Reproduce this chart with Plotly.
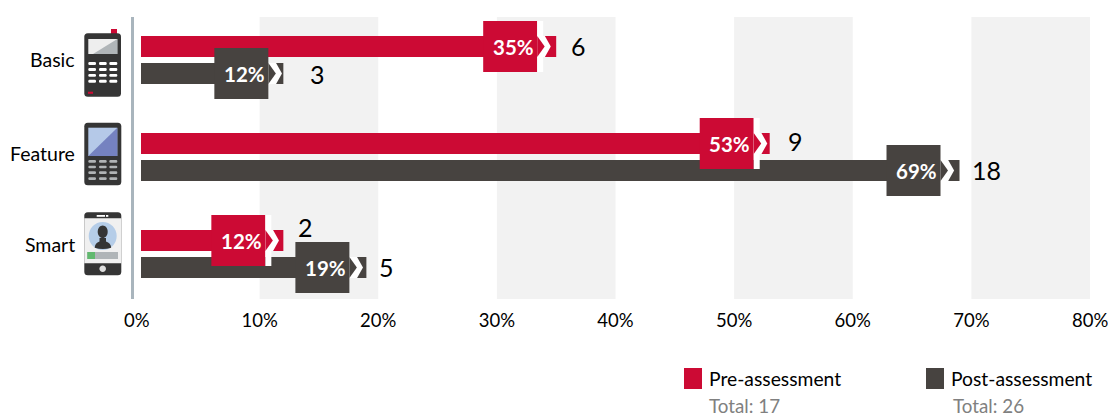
import plotly.graph_objects as go

# Device classes and the share of respondents owning each, before and after
categories = ["Basic", "Feature", "Smart"]
pre_pct = [35, 53, 12]
post_pct = [12, 69, 19]
pre_counts = [6, 9, 2]
post_counts = [3, 18, 5]
pre_total = 17
post_total = 26
tick_values = [0, 10, 20, 30, 40, 50, 60, 70, 80]
band_starts = [10, 30, 50, 70]

RED = "#cc0a34"
DARK = "#474340"
FONT = "Lato"
W, H = 1108, 416
M_L, M_R, M_T, M_B = 134, 18, 17, 117
X_ZERO_PX = 141.0
PX_PER_UNIT = 11.86
CAT_CY = [60, 157, 254]


def paper_x(px):
    return (px - M_L) / (W - M_L - M_R)


def paper_y(py):
    return 1 - (py - M_T) / (H - M_T - M_B)


def data_x(px):
    return (px - X_ZERO_PX) / PX_PER_UNIT


shapes = []
annotations = []


def anchored(xval, yval, d, color, xref="x"):
    """Shape sized in pixels around an anchor; d is a list of path segments with y pointing down."""
    path = []
    for cmd, *pts in d:
        coords = " ".join(f"{pts[i]:.2f},{-pts[i + 1]:.2f}" for i in range(0, len(pts), 2))
        path.append(f"{cmd}{coords}")
    shapes.append(dict(type="path", xref=xref, yref="y", xsizemode="pixel", ysizemode="pixel",
                       xanchor=xval, yanchor=yval, path=" ".join(path) + " Z",
                       fillcolor=color, line=dict(width=0), layer="above"))


def rect(x0, y0, x1, y1):
    return [("M", x0, y0), ("L", x1, y0), ("L", x1, y1), ("L", x0, y1)]


def rrect(x0, y0, x1, y1, r):
    return [("M", x0 + r, y0), ("L", x1 - r, y0), ("Q", x1, y0, x1, y0 + r),
            ("L", x1, y1 - r), ("Q", x1, y1, x1 - r, y1),
            ("L", x0 + r, y1), ("Q", x0, y1, x0, y1 - r),
            ("L", x0, y0 + r), ("Q", x0, y0, x0 + r, y0)]


def ellipse(cx, cy, rx, ry):
    k = 0.5523
    return [("M", cx - rx, cy),
            ("C", cx - rx, cy - k * ry, cx - k * rx, cy - ry, cx, cy - ry),
            ("C", cx + k * rx, cy - ry, cx + rx, cy - k * ry, cx + rx, cy),
            ("C", cx + rx, cy + k * ry, cx + k * rx, cy + ry, cx, cy + ry),
            ("C", cx - k * rx, cy + ry, cx - rx, cy + k * ry, cx - rx, cy)]


def icon(cat, page_segments, color):
    """Draw an icon part given in page pixels, anchored left of the plot on its category row."""
    cy = CAT_CY[cat]
    d = []
    for cmd, *pts in page_segments:
        out = [cmd]
        for i in range(0, len(pts), 2):
            out += [pts[i] - X_ZERO_PX, pts[i + 1] - cy]
        d.append(tuple(out))
    anchored(paper_x(X_ZERO_PX), cat, d, color, xref="paper")


def keypad(cat, rows, color):
    for y0, y1 in rows:
        for x0, x1 in [(88.3, 96), (99, 106.7), (109.3, 117.3)]:
            icon(cat, rrect(x0, y0, x1, y1, 1.2), color)


# Basic handset
icon(0, rect(111, 29, 117, 35), RED)
icon(0, rrect(84.3, 33.3, 121, 96.7, 3.5), "#353535")
icon(0, rect(88.3, 39, 117.3, 54), "#eeeeee")
icon(0, [("M", 117.3, 39), ("L", 117.3, 54), ("L", 93, 54)], "#b0b5b8")
keypad(0, [(62, 65), (68, 71), (74, 76.8), (79.7, 82.7)], "#ffffff")
icon(0, rect(88, 91.7, 93, 93.8), RED)

# Feature handset
icon(1, rrect(84.3, 122.7, 121.3, 185.3, 3.5), "#353535")
icon(1, rect(88.3, 127.7, 117.3, 156), "#b5c9e8")
icon(1, [("M", 117.3, 127.7), ("L", 117.3, 156), ("L", 88.3, 156)], "#7582c0")
keypad(1, [(160, 162.7), (165.7, 168.3), (171.3, 174), (177.3, 180)], "#b0b3b5")

# Smartphone
icon(2, rrect(84.3, 212.3, 121.3, 275.3, 3.5), "#353535")
icon(2, rect(84.3, 218.3, 121.3, 263.3), "#f0f0f0")
icon(2, rect(96.7, 215, 105, 216.8), "#ffffff")
icon(2, rect(106, 215, 108.3, 216.8), "#ffffff")
icon(2, ellipse(102.7, 236, 14, 14), "#b5cde8")
icon(2, [("M", 94.7, 247.7), ("Q", 95, 243, 99.5, 241.5), ("L", 99.5, 238), ("L", 106, 238),
         ("L", 106, 241.5), ("Q", 110.8, 243, 111.2, 247.7), ("Q", 102.7, 250.5, 94.7, 247.7)], "#353535")
icon(2, ellipse(102.7, 231.7, 5, 6.3), "#353535")
icon(2, rect(87.3, 252, 118, 259), "#b0b5b8")
icon(2, rect(87.3, 252, 95, 259), "#62b96f")
icon(2, ellipse(102.7, 268.7, 3.3, 3.3), "#dddddd")

# Alternating background bands
for start in band_starts:
    shapes.append(dict(type="rect", xref="x", yref="paper", x0=start, x1=start + 10, y0=0, y1=1,
                       fillcolor="#f2f2f2", line=dict(width=0), layer="below"))

# Distance of each percent flag's right edge from the end of its bar
PRE_FLAG_BACK = [19, 16, 18]
POST_FLAG_BACK = [15, 19, 17]
# Where the count sits relative to the end of its bar: (right of the end, below the bar centre)
PRE_COUNT_NUDGE = [(13, -0.5), (16, -2.5), (13, -13.5)]
POST_COUNT_NUDGE = [(25, 0.5), (10, -0.5), (11, -1)]


def flag(cat, value, slot, back, color, stripe):
    """Percent flag on a bar: box, optional white stripe and a white chevron."""
    y = -13.5 if slot == 0 else 13.5
    r = -back
    anchored(value, cat, rect(r - 54, y - 25.5, r, y + 25.5), color)
    if stripe:
        anchored(value, cat, rect(r, y - 25.5, r + 6, y + 25.5), "#ffffff")
    anchored(value, cat, [("M", r, y - 10.5), ("L", r + 7.7, y - 10.5), ("L", r + 13.6, y),
                          ("L", r + 7.7, y + 10.5), ("L", r, y + 10.5)], "#ffffff")
    anchored(value, cat, [("M", r, y - 10.5), ("L", r + 7.5, y), ("L", r, y + 10.5)], color)
    annotations.append(dict(x=value, y=cat, xref="x", yref="y", text=f"<b>{value}%</b>", showarrow=False,
                            xanchor="center", yanchor="middle", xshift=r - 24, yshift=-y,
                            font=dict(family=FONT, size=20.5, color="#ffffff")))


def count_label(cat, value, count, slot, nudge):
    off = -13.5 if slot == 0 else 13.5
    annotations.append(dict(x=value, y=cat, xref="x", yref="y", text=str(count), showarrow=False,
                            xanchor="left", yanchor="middle", xshift=nudge[0],
                            yshift=-(off + nudge[1]),
                            font=dict(family=FONT, size=25, color="#000000")))


for i in range(len(categories)):
    flag(i, pre_pct[i], 0, PRE_FLAG_BACK[i], RED, True)
    count_label(i, pre_pct[i], pre_counts[i], 0, PRE_COUNT_NUDGE[i])
for i in range(len(categories)):
    flag(i, post_pct[i], 1, POST_FLAG_BACK[i], DARK, False)
    count_label(i, post_pct[i], post_counts[i], 1, POST_COUNT_NUDGE[i])

# Category names, right-aligned against the icons
for name, py in zip(categories, [59, 153, 245]):
    annotations.append(dict(x=paper_x(76.5), y=paper_y(py), xref="paper", yref="paper", text=name,
                            showarrow=False, xanchor="right", yanchor="middle",
                            font=dict(family=FONT, size=19.5, color="#000000")))

# Axis ends: the zero label sits slightly left of its tick, the last label runs to the page edge
annotations.append(dict(x=tick_values[0], y=0, xref="x", yref="paper", text=f"{tick_values[0]}%", showarrow=False,
                        xanchor="center", yanchor="top", xshift=-4, yshift=-8,
                        font=dict(family=FONT, size=18.5, color="#000000")))
annotations.append(dict(x=tick_values[-1], y=0, xref="x", yref="paper", text=f"{tick_values[-1]}%", showarrow=False,
                        xanchor="center", yanchor="top", xshift=0, yshift=-8,
                        font=dict(family=FONT, size=18.5, color="#000000")))

# Legend block, placed on the x axis so long entries do not disturb the plot margins
for x_sq, x_txt, name, color, total, x_tot in [
    (684, 707, "Pre-assessment", RED, pre_total, 707),
    (926, 949, "Post-assessment", DARK, post_total, 951),
]:
    shapes.append(dict(type="rect", xref="paper", yref="paper", x0=paper_x(x_sq), x1=paper_x(x_sq + 18),
                       y0=paper_y(389), y1=paper_y(368), fillcolor=color, line=dict(width=0)))
    annotations.append(dict(x=data_x(x_txt), y=paper_y(378), xref="x", yref="paper", text=name,
                            showarrow=False, xanchor="left", yanchor="middle",
                            font=dict(family=FONT, size=19.3, color="#000000")))
    annotations.append(dict(x=data_x(x_tot), y=paper_y(405), xref="x", yref="paper", text=f"Total: {total}",
                            showarrow=False, xanchor="left", yanchor="middle",
                            font=dict(family=FONT, size=18.8, color="#808080")))

fig = go.Figure()
fig.add_bar(y=categories, x=pre_pct, orientation="h", name="Pre-assessment", marker=dict(color=RED, line=dict(width=0)))
fig.add_bar(y=categories, x=post_pct, orientation="h", name="Post-assessment", marker=dict(color=DARK, line=dict(width=0)))

fig.update_layout(
    width=W, height=H, autosize=False, showlegend=False, barmode="group",
    bargap=1 - 54 / 97, bargroupgap=6 / 27,
    margin=dict(l=M_L, r=M_R, t=M_T, b=M_B, pad=0),
    paper_bgcolor="#ffffff", plot_bgcolor="#ffffff",
    shapes=shapes, annotations=annotations,
    font=dict(family=FONT, color="#000000"),
    xaxis=dict(range=[data_x(M_L), 80], tickmode="array", tickvals=tick_values[1:-1],
               ticktext=[f"{t}%" for t in tick_values[1:-1]], showgrid=False, zeroline=False, ticks="",
               tickfont=dict(family=FONT, size=18.5, color="#000000"),
               ticklabelstandoff=8, showline=False),
    yaxis=dict(type="category", categoryorder="array", categoryarray=categories,
               range=[(299 - 60) / 97, -(60 - 17) / 97], showgrid=False, zeroline=False,
               showticklabels=False, ticks="", showline=True, linecolor="#a9b5bd", linewidth=3),
)

fig.write_html("out.html", config=dict(displayModeBar=False))
